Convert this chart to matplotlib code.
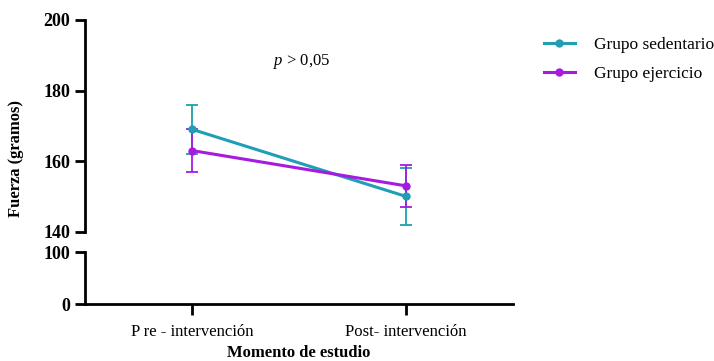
import matplotlib
matplotlib.use("Agg")
import matplotlib.pyplot as plt
from matplotlib.lines import Line2D

categories = ["P re - intervención", "Post- intervención"]
sedentario_mean = [169, 150]
sedentario_sd = [7, 8]
ejercicio_mean = [163, 153]
ejercicio_sd = [6, 6]
series_labels = ["Grupo sedentario", "Grupo ejercicio"]
top_ticks = [140, 160, 180, 200]
bottom_ticks = [0, 100]

teal = "#1F9FB4"
purple = "#A51CE0"

plt.rcParams['font.family'] = ['Liberation Serif', 'DejaVu Serif']
plt.rcParams['mathtext.fontset'] = 'custom'
plt.rcParams['mathtext.it'] = 'Liberation Serif:italic'
plt.rcParams['mathtext.rm'] = 'Liberation Serif'

fig = plt.figure(figsize=(7.14, 3.61), dpi=100)
ax_top = fig.add_axes([0.1195, 0.358, 0.599, 0.5866])
ax_bot = fig.add_axes([0.1195, 0.157, 0.599, 0.144])

x = list(range(len(categories)))
handles = []
for mean, sd, col, lab in [(sedentario_mean, sedentario_sd, teal, series_labels[0]),
                           (ejercicio_mean, ejercicio_sd, purple, series_labels[1])]:
    ax_top.errorbar(x, mean, yerr=sd, color=col, lw=2.2, marker='o', ms=5,
                    elinewidth=1.3, capsize=4, capthick=1.3)
    handles.append(Line2D([], [], color=col, lw=2.2, marker='o', ms=5, label=lab))

for ax in (ax_top, ax_bot):
    ax.set_xlim(-0.5, 1.5)
    ax.spines['top'].set_visible(False)
    ax.spines['right'].set_visible(False)
    ax.spines['left'].set_linewidth(2)
    ax.spines['bottom'].set_linewidth(2)
    ax.tick_params(axis='y', width=2, length=7, pad=4)

ax_top.set_ylim(140, 200)
ax_top.set_yticks(top_ticks)
ax_top.set_yticklabels([str(v) for v in top_ticks], fontweight='bold', fontsize=13)
ax_top.spines['bottom'].set_visible(False)
ax_top.tick_params(axis='x', bottom=False, labelbottom=False)

ax_bot.set_ylim(0, 100)
ax_bot.set_yticks(bottom_ticks)
ax_bot.set_yticklabels([str(v) for v in bottom_ticks], fontweight='bold', fontsize=13)
ax_bot.set_xticks(x)
ax_bot.set_xticklabels(categories, fontsize=12)
ax_bot.tick_params(axis='x', width=2, length=8, pad=6)
ax_bot.set_xlabel("Momento de estudio", fontweight='bold', fontsize=12, labelpad=4)

fig.text(0.022, 0.56, "Fuerza (gramos)", rotation=90, fontweight='bold', fontsize=12,
         ha='center', va='center')

ax_top.text(0.51, 188.3, r"$p$ > 0,05", fontsize=12, ha='center', va='center')

ax_top.legend(handles=handles, loc='upper left', bbox_to_anchor=(1.035, 0.995), frameon=False,
              fontsize=12.5, handlelength=1.8, handletextpad=1.1, labelspacing=0.75)

fig.savefig("out.png", dpi=100)
